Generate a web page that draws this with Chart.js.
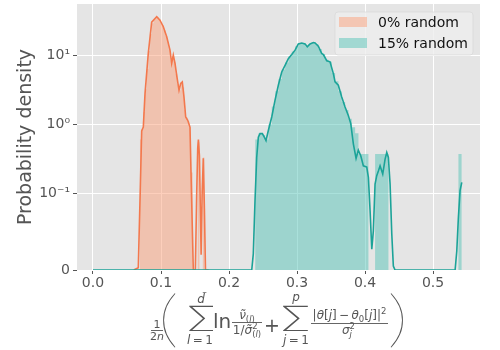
<!DOCTYPE html>
<html>
<head>
<meta charset="utf-8">
<script src="https://cdn.jsdelivr.net/npm/chart.js@4/dist/chart.umd.min.js"></script>
<style>
  html, body { margin: 0; padding: 0; background: #fff; }
  #wrap { width: 500px; height: 350px; }
</style>
</head>
<body>
<div id="wrap"><canvas id="c" width="500" height="350"></canvas></div>
<script>
/* ---- data ---- */
const seriesNames = ['0% random', '15% random'];

// histogram, orange series: left bin edges + density of each bin
const histOrangeEdges = [0.0690, 0.0715, 0.0740, 0.0765, 0.0790, 0.0815, 0.0840, 0.0865, 0.0890,
  0.0915, 0.0940, 0.0965, 0.0990, 0.1015, 0.1040, 0.1065, 0.1090, 0.1115, 0.1140,
  0.1165, 0.1190, 0.1215, 0.1240, 0.1265, 0.1290, 0.1315, 0.1340, 0.1365, 0.1390,
  0.1415, 0.1440, 0.1465, 0.1490, 0.1515, 0.1540, 0.1565, 0.1590, 0.1615, 0.1640];
const histOrangeValues = [0.6, 0.85, 1.5, 3.2, 6.3, 11.5, 20, 29, 33,
  35, 35, 33, 30, 27, 23, 19, 15.5, 12, 8.3,
  9.8, 7.8, 5.3, 3.8, 3.1, 3.9, 3.4, 1.6, 1.25, 1.1,
  0.9, 0.2, 0, 0, 0, 0.55, 0, 0, 0.33, 0];

// histogram, teal series
const histTealEdges = [0.2384, 0.2433, 0.2482, 0.2531, 0.2580, 0.2629, 0.2678, 0.2727, 0.2776, 0.2825,
  0.2874, 0.2923, 0.2972, 0.3021, 0.3070, 0.3119, 0.3168, 0.3217, 0.3266, 0.3315,
  0.3364, 0.3413, 0.3462, 0.3511, 0.3560, 0.3609, 0.3658, 0.3707, 0.3756, 0.3805,
  0.3854, 0.3903, 0.3952, 0.4001, 0.4050, 0.4099, 0.4148, 0.4197, 0.4246, 0.4295,
  0.4344, 0.5373, 0.5422];
const histTealValues = [0.6, 0.74, 0.7, 0.6, 1.0, 1.8, 3.0, 4.5, 6.2, 7.8,
  9.6, 11.3, 13.5, 15.0, 15.0, 13.5, 14.5, 15.2, 14.5, 12.3,
  10.4, 8.6, 8.0, 5.5, 4.2, 3.0, 2.1, 1.6, 1.2, 0.9,
  0.74, 0.37, 0.37, 0.37, 0, 0, 0.37, 0.37, 0.37, 0.37,
  0, 0.37, 0];

// KDE curves
const kdeOrangeX = [0.060, 0.0666, 0.0691, 0.0716, 0.0740, 0.0765, 0.0813, 0.0863, 0.0912, 0.0937,
  0.0985, 0.1034, 0.1084, 0.1132, 0.1157, 0.1181, 0.1206, 0.1231, 0.1265, 0.1290,
  0.1313, 0.1338, 0.1363, 0.1393, 0.1426, 0.1451, 0.1475, 0.1505, 0.1525, 0.1540,
  0.1550, 0.1565, 0.1580, 0.1590, 0.1605, 0.1622, 0.1638, 0.1654, 0.170];
const kdeOrangeY = [0, 0.003, 0.09, 0.80, 0.91, 2.77, 10.6, 30, 34, 36,
  32, 25.8, 18.4, 11.8, 7.6, 10, 7.6, 5.1, 3.1, 3.9,
  4.1, 2.47, 1.27, 1.14, 0.91, 0.09, 0, 0, 0.1, 0.45,
  0.6, 0.35, 0.07, 0.02, 0.1, 0.32, 0.08, 0, 0];

const kdeTealX = [0.000, 0.2334, 0.2357, 0.2382, 0.2407, 0.2431, 0.2456, 0.2490, 0.2519, 0.2544,
  0.2578, 0.2628, 0.2676, 0.2725, 0.2775, 0.2824, 0.2872, 0.2922, 0.2971, 0.3019,
  0.3069, 0.3118, 0.3151, 0.3191, 0.3240, 0.3265, 0.3313, 0.3362, 0.3387, 0.3437,
  0.3485, 0.3534, 0.3559, 0.3607, 0.3657, 0.3706, 0.3754, 0.3790, 0.3828, 0.3868,
  0.3901, 0.3937, 0.3975, 0.4025, 0.4049, 0.4074, 0.4099, 0.4122, 0.4147, 0.4172,
  0.4196, 0.4221, 0.4260, 0.4294, 0.4319, 0.4343, 0.4368, 0.4393, 0.4416, 0.4441,
  0.5324, 0.5349, 0.5372, 0.5397, 0.5422];
const kdeTealY = [0, 0, 0.021, 0.09, 0.33, 0.65, 0.73, 0.73, 0.65, 0.58,
  0.81, 1.27, 2.21, 3.66, 5.7, 7.1, 8.9, 10.2, 11.8, 14.5,
  15.0, 14.5, 13.2, 14.5, 15.2, 15.0, 13.5, 10.6, 10.2, 8.3,
  8.0, 5.4, 4.1, 3.66, 2.47, 1.77, 1.34, 1.02, 0.52, 0.32,
  0.42, 0.35, 0.25, 0.24, 0.17, 0.077, 0.027, 0.051, 0.136, 0.18,
  0.21, 0.25, 0.19, 0.31, 0.39, 0.33, 0.136, 0.047, 0.005, 0,
  0, 0.025, 0.068, 0.109, 0.144];

const xTicks = [0.0, 0.1, 0.2, 0.3, 0.4, 0.5];
const yTicks = [0, 0.1, 1, 10];
const yTickLabels = ['0', '10\u207b\u00b9', '10\u2070', '10\u00b9'];

/* ---- colours ---- */
const ORANGE = '#f3784d';
const TEAL = '#1ba398';
const ORANGE_FILL = 'rgba(251,159,121,0.5)';
const TEAL_FILL = 'rgba(85,195,183,0.5)';
const GREY_TXT = '#555555';
const FONT = '"DejaVu Sans"';

/* ---- symlog y scale (linthresh 0.1, linscale 1, like matplotlib) ---- */
const LINTHRESH = 0.1;
const LINSCALE = 1 / (1 - 1 / 10);

function symT(v) {
  const a = Math.abs(v);
  const t = a <= LINTHRESH ? (a / LINTHRESH) * LINSCALE : LINSCALE + Math.log10(a / LINTHRESH);
  return v < 0 ? -t : t;
}
function symInv(t) {
  const a = Math.abs(t);
  const v = a <= LINSCALE ? (a / LINSCALE) * LINTHRESH : LINTHRESH * Math.pow(10, a - LINSCALE);
  return t < 0 ? -v : v;
}

class SymlogScale extends Chart.LinearScale {
  buildTicks() {
    return yTicks.map(v => ({ value: v }));
  }
  getPixelForValue(value) {
    const a = symT(this.min), b = symT(this.max);
    return this.getPixelForDecimal((symT(value) - a) / (b - a));
  }
  getValueForPixel(pixel) {
    const a = symT(this.min), b = symT(this.max);
    return symInv(a + this.getDecimalForPixel(pixel) * (b - a));
  }
}
SymlogScale.id = 'symlog';
SymlogScale.defaults = {};
Chart.register(SymlogScale);

const pts = (xs, ys) => xs.map((x, i) => ({ x, y: ys[i] }));

/* ---- plugins ---- */
const panelBg = {
  id: 'panelBg',
  beforeDraw(chart) {
    const { ctx, chartArea: a } = chart;
    ctx.save();
    ctx.fillStyle = '#e5e5e5';
    ctx.fillRect(a.left, a.top, a.right - a.left, a.bottom - a.top);
    ctx.restore();
  }
};

const boxLegend = {
  id: 'boxLegend',
  afterDatasetsDraw(chart) {
    const { ctx, chartArea: a } = chart;
    const x0 = a.right - 145, y0 = a.top + 8, w = 138, h = 43;
    ctx.save();
    ctx.beginPath();
    ctx.roundRect(x0, y0, w, h, 3);
    ctx.fillStyle = 'rgba(238,238,238,0.8)';
    ctx.fill();
    ctx.strokeStyle = 'rgba(215,215,215,0.7)';
    ctx.lineWidth = 1;
    ctx.stroke();
    const fills = [ORANGE_FILL, TEAL_FILL];
    ctx.font = '14px ' + FONT;
    ctx.textBaseline = 'middle';
    ctx.textAlign = 'left';
    seriesNames.forEach((name, i) => {
      const cy = y0 + 10 + i * 21;
      ctx.fillStyle = fills[i];
      ctx.fillRect(x0 + 4, cy - 5, 28, 10);
      ctx.fillStyle = '#111';
      ctx.fillText(name, x0 + 43, cy + 1);
    });
    ctx.restore();
  }
};

// x axis label: the math formula, drawn as real text
function setFont(ctx, size, italic, weight) {
  ctx.font = (italic ? 'italic ' : '') + (weight ? weight + ' ' : '') + size + 'px ' + FONT;
}
function runW(ctx, r) {
  if (r.stack) return Math.max(...r.stack.map(q => seqW(ctx, q)));
  setFont(ctx, r[1], r[2]);
  return ctx.measureText(r[0]).width;
}
function seqW(ctx, runs) { return runs.reduce((s, r) => s + runW(ctx, r), 0); }
function drawSeq(ctx, runs, x, y) {
  runs.forEach(r => {
    if (r.stack) r.stack.forEach(q => drawSeq(ctx, q, x, y));
    else { setFont(ctx, r[1], r[2]); ctx.fillText(r[0], x, y + (r[3] || 0)); }
    x += runW(ctx, r);
  });
}
function drawCentered(ctx, runs, cx, y) { drawSeq(ctx, runs, cx - seqW(ctx, runs) / 2, y); }
function fitGlyph(ctx, ch, font, x0, y0, x1, y1) {
  ctx.font = font;
  const m = ctx.measureText(ch);
  const w = m.actualBoundingBoxLeft + m.actualBoundingBoxRight;
  const h = m.actualBoundingBoxAscent + m.actualBoundingBoxDescent;
  const sx = (x1 - x0) / w, sy = (y1 - y0) / h;
  ctx.save();
  ctx.translate(x0 + m.actualBoundingBoxLeft * sx, y0 + m.actualBoundingBoxAscent * sy);
  ctx.scale(sx, sy);
  ctx.fillText(ch, 0, 0);
  ctx.restore();
}
function fracBar(ctx, x0, x1, y) { ctx.fillRect(x0, y - 0.45, x1 - x0, 0.9); }

const formulaLabel = {
  id: 'formulaLabel',
  afterDraw(chart) {
    const ctx = chart.ctx;
    const S = 12, s = 8.5;
    ctx.save();
    ctx.fillStyle = GREY_TXT;
    ctx.textAlign = 'left';
    ctx.textBaseline = 'alphabetic';
    // 1 / 2n
    drawCentered(ctx, [['1', 11]], 157, 328);
    fracBar(ctx, 151, 163, 330.5);
    drawCentered(ctx, [['2', 11], ['n', 11, true]], 157, 340);
    // big parens
    fitGlyph(ctx, '(', '100 60px Lato', 162, 292, 176, 348);
    fitGlyph(ctx, ')', '100 60px Lato', 390, 292, 404, 348);
    // first sum
    fitGlyph(ctx, '\u2211', '300 30px Lato, "DejaVu Sans"', 189, 305, 213, 332);
    drawCentered(ctx, [['d\u0303', S, true]], 201, 303);
    drawCentered(ctx, [['l', S, true], ['\u2009=\u20091', S]], 200, 344);
    drawCentered(ctx, [['ln', 20]], 222, 328);
    drawCentered(ctx, [['\u03bd\u0303', S, true], ['(', s, false, 3], ['l', s, true, 3], [')', s, false, 3]], 247, 319);
    fracBar(ctx, 232, 262, 322.5);
    drawCentered(ctx, [['1/', S], ['\u03c3\u0303', S, true],
      { stack: [[['2', s, false, -5]], [['(', s, false, 3], ['l', s, true, 3], [')', s, false, 3]]] }], 247, 334);
    // plus
    drawCentered(ctx, [['+', 19]], 272, 332);
    // second sum
    fitGlyph(ctx, '\u2211', '300 30px Lato, "DejaVu Sans"', 283, 305, 308, 332);
    drawCentered(ctx, [['p', S, true]], 296, 301);
    drawCentered(ctx, [['j', S, true], ['\u2009=\u20091', S]], 296, 344);
    drawCentered(ctx, [['|', S], ['\u03b8', S, true], ['[', S], ['j', S, true], [']', S], ['\u2009\u2212\u2009', S],
      ['\u03b8', S, true], ['0', s, false, 2.5], ['[', S], ['j', S, true], [']|', S], ['2', s, false, -5]], 349.5, 319);
    fracBar(ctx, 311, 388, 323.5);
    drawCentered(ctx, [['\u03c3', S, true], { stack: [[['2', s, false, -5]], [['j', s, true, 3]]] }], 348.5, 334);
    ctx.restore();
  }
};

/* ---- chart ---- */
new Chart(document.getElementById('c'), {
  type: 'line',
  data: {
    datasets: [
      {
        label: seriesNames[1] + ' kde', data: pts(kdeTealX, kdeTealY), order: 0,
        borderColor: TEAL, borderWidth: 1.6, pointRadius: 0, fill: false, tension: 0
      },
      {
        label: seriesNames[1], data: pts(histTealEdges, histTealValues), order: 1,
        stepped: 'before', borderWidth: 0, borderColor: 'rgba(0,0,0,0)', pointRadius: 0,
        fill: 'origin', backgroundColor: TEAL_FILL
      },
      {
        label: seriesNames[0] + ' kde', data: pts(kdeOrangeX, kdeOrangeY), order: 2,
        borderColor: ORANGE, borderWidth: 1.6, pointRadius: 0, fill: false, tension: 0
      },
      {
        label: seriesNames[0], data: pts(histOrangeEdges, histOrangeValues), order: 3,
        stepped: 'before', borderWidth: 0, borderColor: 'rgba(0,0,0,0)', pointRadius: 0,
        fill: 'origin', backgroundColor: ORANGE_FILL
      }
    ]
  },
  options: {
    responsive: false,
    animation: false,
    devicePixelRatio: 1,
    layout: { padding: { top: 4, right: 20, left: 0, bottom: 0 } },
    plugins: { legend: { display: false }, tooltip: { enabled: false } },
    scales: {
      x: {
        type: 'linear',
        min: -0.0235,
        max: 0.569,
        afterFit: (scale) => { scale.height = 80; scale.paddingLeft = 0; scale.paddingRight = 0; },
        afterBuildTicks: (scale) => { scale.ticks = xTicks.map(v => ({ value: v })); },
        border: { display: false },
        grid: { color: '#ffffff', lineWidth: 1, tickColor: GREY_TXT, tickLength: 4 },
        ticks: {
          color: GREY_TXT, font: { family: 'DejaVu Sans', size: 14 }, padding: 1,
          maxRotation: 0, autoSkip: false,
          callback: (v) => Number(v).toFixed(1)
        }
      },
      y: {
        type: 'symlog',
        min: 0,
        max: 55,
        afterFit: (scale) => { scale.width = 77; scale.paddingTop = 0; scale.paddingBottom = 0; },
        border: { display: false },
        grid: { color: '#ffffff', lineWidth: 1, tickColor: GREY_TXT, tickLength: 4 },
        ticks: {
          color: GREY_TXT, font: { family: 'DejaVu Sans', size: 14 }, padding: 3, autoSkip: false,
          callback: (v) => yTickLabels[yTicks.indexOf(v)]
        },
        title: {
          display: true, text: 'Probability density', color: GREY_TXT,
          font: { family: 'DejaVu Sans', size: 19 }, padding: { top: 15, bottom: 0 }
        }
      }
    }
  },
  plugins: [panelBg, boxLegend, formulaLabel]
});
</script>
</body>
</html>
